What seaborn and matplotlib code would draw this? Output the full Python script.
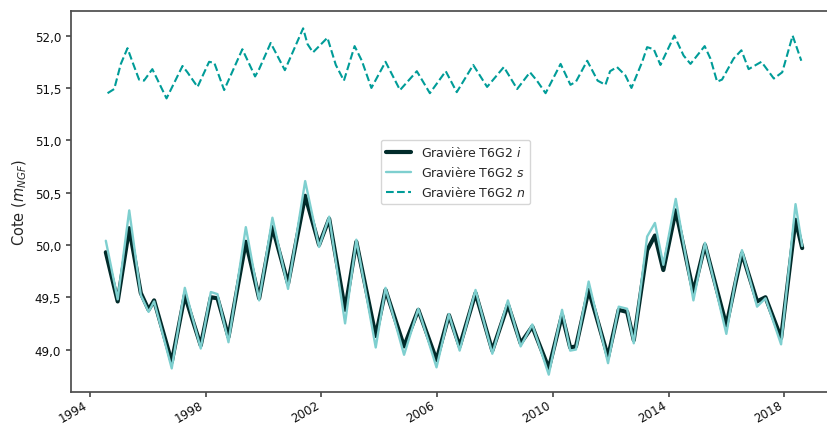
import numpy as np
import pandas as pd
import matplotlib
matplotlib.use("Agg")
import matplotlib.pyplot as plt
import matplotlib.dates as mdates
from matplotlib.ticker import FuncFormatter
import seaborn as sns

sns.set_theme(style="ticks")
plt.rcParams['font.family'] = ['DejaVu Sans']

# Dates (decimal years) for the i and s series
years_is = [1994.55, 1994.96, 1995.36, 1995.76, 1996.03, 1996.22, 1996.83, 1997.28,
            1997.55, 1997.83, 1998.18, 1998.41, 1998.79, 1999.39, 1999.85, 2000.31,
            2000.85, 2001.44, 2001.92, 2002.27, 2002.82, 2003.21, 2003.88, 2004.22,
            2004.86, 2005.35, 2005.98, 2006.41, 2006.78, 2007.33, 2007.91, 2008.45,
            2008.89, 2009.29, 2009.86, 2010.32, 2010.60, 2010.80, 2011.24, 2011.91,
            2012.28, 2012.57, 2012.80, 2013.26, 2013.53, 2013.82, 2014.25, 2014.86,
            2015.26, 2016.00, 2016.31, 2016.54, 2017.06, 2017.35, 2017.89, 2018.39,
            2018.62]
cote_i = [49.93, 49.46, 50.16, 49.54, 49.38, 49.47, 48.88, 49.52,
          49.28, 49.04, 49.50, 49.49, 49.12, 50.03, 49.49, 50.17,
          49.63, 50.47, 50.00, 50.25, 49.38, 50.03, 49.13, 49.57,
          49.03, 49.38, 48.90, 49.33, 49.03, 49.54, 48.99, 49.43,
          49.06, 49.22, 48.82, 49.33, 49.02, 49.03, 49.57, 48.93,
          49.38, 49.36, 49.09, 49.95, 50.09, 49.76, 50.33, 49.55,
          50.00, 49.23, 49.63, 49.92, 49.46, 49.50, 49.11, 50.24,
          49.97]
cote_s = [50.04, 49.48, 50.33, 49.52, 49.36, 49.46, 48.82, 49.59,
          49.30, 49.01, 49.55, 49.53, 49.07, 50.17, 49.47, 50.26,
          49.58, 50.61, 49.98, 50.27, 49.25, 50.05, 49.02, 49.59,
          48.95, 49.39, 48.83, 49.34, 48.99, 49.57, 48.96, 49.47,
          49.03, 49.24, 48.76, 49.38, 48.99, 49.00, 49.65, 48.87,
          49.41, 49.39, 49.06, 50.08, 50.21, 49.81, 50.44, 49.47,
          50.02, 49.15, 49.65, 49.95, 49.41, 49.49, 49.05, 50.39,
          49.99]

# n series
years_n = [1994.61, 1994.84, 1995.07, 1995.30, 1995.47, 1995.70, 1995.87, 1996.16,
           1996.65, 1997.20, 1997.37, 1997.72, 1998.12, 1998.30, 1998.64, 1999.27,
           1999.71, 1999.85, 2000.25, 2000.74, 2001.37, 2001.52, 2001.71, 2002.21,
           2002.50, 2002.78, 2003.15, 2003.40, 2003.73, 2004.22, 2004.72, 2005.30,
           2005.75, 2006.30, 2006.68, 2007.25, 2007.73, 2008.31, 2008.77, 2009.21,
           2009.45, 2009.75, 2010.27, 2010.61, 2010.80, 2011.19, 2011.55, 2011.82,
           2011.98, 2012.22, 2012.51, 2012.72, 2013.09, 2013.26, 2013.49, 2013.72,
           2014.20, 2014.52, 2014.76, 2015.25, 2015.45, 2015.68, 2015.85, 2016.25,
           2016.52, 2016.77, 2017.21, 2017.64, 2017.93, 2018.29, 2018.59]
cote_n = [51.45, 51.49, 51.73, 51.88, 51.75, 51.58, 51.57, 51.68,
          51.40, 51.71, 51.65, 51.51, 51.75, 51.74, 51.48, 51.87,
          51.61, 51.68, 51.93, 51.67, 52.07, 51.92, 51.84, 51.98,
          51.72, 51.57, 51.90, 51.76, 51.50, 51.75, 51.48, 51.66,
          51.45, 51.66, 51.46, 51.72, 51.51, 51.70, 51.49, 51.65,
          51.57, 51.45, 51.73, 51.53, 51.56, 51.76, 51.57, 51.53,
          51.66, 51.70, 51.62, 51.50, 51.75, 51.89, 51.87, 51.72,
          52.00, 51.81, 51.73, 51.90, 51.78, 51.56, 51.58, 51.78,
          51.86, 51.68, 51.75, 51.59, 51.65, 52.00, 51.76]

labels = ["Gravière T6G2 $i$", "Gravière T6G2 $s$", "Gravière T6G2 $n$"]
tick_years = [1994, 1998, 2002, 2006, 2010, 2014, 2018]


def to_dates(years):
    return [pd.Timestamp(int(y), 1, 1) + pd.Timedelta(days=(y - int(y)) * 365.25)
            for y in years]


dates_is = to_dates(years_is)
dates_n = to_dates(years_n)

fig = plt.figure(figsize=(8.28, 4.27), dpi=100)
ax = fig.add_axes([71 / 828, 34 / 427, 766 / 828, 381 / 427])

sns.lineplot(x=dates_is, y=cote_i, ax=ax, color="#012b2a", lw=3.0, label=labels[0])
sns.lineplot(x=dates_is, y=cote_s, ax=ax, color="#7ecfcf", lw=1.7, label=labels[1])
sns.lineplot(x=dates_n, y=cote_n, ax=ax, color="#009c98", lw=1.5, ls="--", label=labels[2])

ax.set_xticks([pd.Timestamp(y, 1, 1) for y in tick_years])
ax.xaxis.set_major_formatter(mdates.DateFormatter('%Y'))
for lbl in ax.get_xticklabels():
    lbl.set_rotation(30)
    lbl.set_ha('right')
ax.yaxis.set_major_formatter(FuncFormatter(lambda v, p: f"{v:.1f}".replace('.', ',')))
ax.tick_params(labelsize=8.6, length=3.5, color='0.3', labelcolor='0.05')
ax.tick_params(axis='x', pad=1)
for s in ax.spines.values():
    s.set_color('0.3')
ax.spines['right'].set_visible(False)

ax.set_ylabel("Cote ($m_{NGF}$)", fontsize=10.5)
ax.set_xlabel("")

ax.legend(loc='center', bbox_to_anchor=(0.502, 0.577), fontsize=9, frameon=True)

fig.savefig("out.png", dpi=100)
